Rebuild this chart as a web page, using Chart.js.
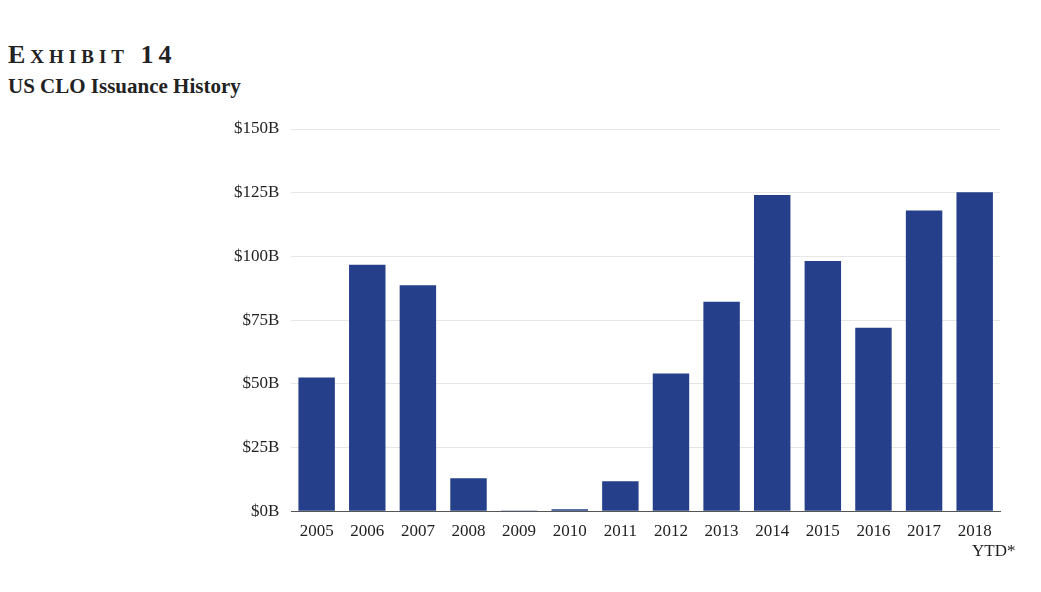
<!DOCTYPE html>
<html><head><meta charset="utf-8">
<script src="https://cdn.jsdelivr.net/npm/chart.js@4"></script>
<style>
body{margin:0;background:#fff;width:1041px;height:592px;overflow:hidden;position:relative;font-family:"Liberation Serif",serif}
#t1{position:absolute;left:8px;top:40px;font-size:26px;font-weight:bold;letter-spacing:5px;color:#222}
#t1 span{font-size:19px}
#t2{position:absolute;left:8px;top:74px;font-size:21px;font-weight:bold;color:#222}
#wrap{position:absolute;left:0;top:0;width:1041px;height:592px}
</style></head><body>
<div id="t1">E<span>XHIBIT</span> 14</div>
<div id="t2">US CLO Issuance History</div>
<div id="wrap"><canvas id="c"></canvas></div>
<script>
const categories=["2005","2006","2007","2008","2009","2010","2011","2012","2013","2014","2015","2016","2017",["2018","         YTD*"]];
const issuance=[52.5,96.7,88.7,12.9,0.3,0.8,11.8,54,82.2,124.1,98.2,72,118,125.2];
const yTicks=[0,25,50,75,100,125,150];
new Chart(document.getElementById('c'),{
type:'bar',
data:{labels:categories,datasets:[{data:issuance,backgroundColor:'#253f8a',categoryPercentage:0.72,barPercentage:1}]},
options:{responsive:true,maintainAspectRatio:false,animation:false,
layout:{padding:{left:222,top:129,right:41,bottom:28}},
plugins:{legend:{display:false},tooltip:{enabled:false}},
scales:{
x:{grid:{display:false},border:{color:'#555'},ticks:{autoSkip:false,color:'#222',font:{family:'Liberation Serif',size:17},maxRotation:0,padding:2}},
y:{min:0,max:150,afterBuildTicks:s=>{s.ticks=yTicks.map(v=>({value:v}))},
grid:{color:'#e6e6e6',drawTicks:false},border:{display:false},
ticks:{color:'#222',padding:12,font:{family:'Liberation Serif',size:17},callback:v=>'$'+v+'B'}}
}}});
</script></body></html>
